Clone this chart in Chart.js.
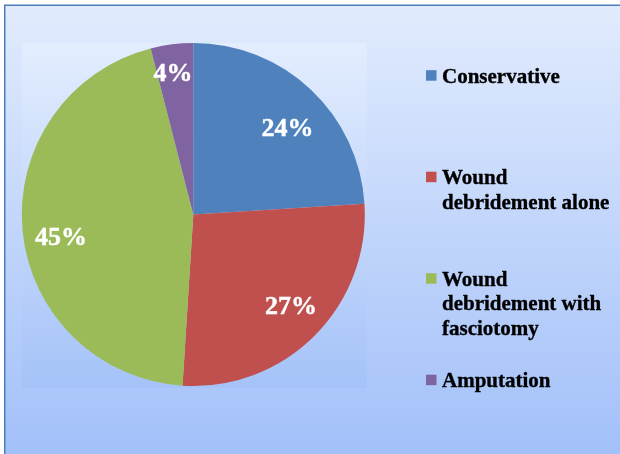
<!DOCTYPE html>
<html>
<head>
<meta charset="utf-8">
<script src="https://cdn.jsdelivr.net/npm/chart.js@4.4.1/dist/chart.umd.min.js"></script>
<style>
  html, body { margin: 0; padding: 0; background: #ffffff; }
  #wrap { width: 620px; height: 454px; position: relative; }
</style>
</head>
<body>
<div id="wrap"><canvas id="c" width="620" height="454"></canvas></div>
<script>
// ---- data ----
const categories = ['Conservative', 'Wound debridement alone', 'Wound debridement with fasciotomy', 'Amputation'];
const percentages = [24, 27, 45, 4];
const valueLabels = ['24%', '27%', '45%', '4%'];
const sliceColors = ['#4F81BD', '#C0504D', '#9BBB59', '#8064A2'];

// label placement per slice: [fraction of radius, angle tweak in degrees]
const labelPlacement = [[0.748, 4.1], [0.778, -2], [0.782, -4], [0.839, -0.9]];

const backgroundPlugin = {
  id: 'bgFrame',
  beforeDraw(chart) {
    const { ctx, width, height, chartArea } = chart;
    ctx.save();
    let g = ctx.createLinearGradient(0, 6, 0, height);
    g.addColorStop(0, '#E1EBFD');
    g.addColorStop(1, '#A2C0F9');
    ctx.fillStyle = g;
    ctx.fillRect(5, 6, width - 5, height - 6);
    // plot area
    const a = chartArea;
    g = ctx.createLinearGradient(0, a.top, 0, a.bottom);
    g.addColorStop(0, '#E3EDFE');
    g.addColorStop(1, '#A5C3F8');
    ctx.fillStyle = g;
    ctx.fillRect(a.left, a.top, a.right - a.left + 2, a.bottom - a.top + 2);
    // frame
    ctx.strokeStyle = '#4A7EBB';
    ctx.lineWidth = 1.5;
    ctx.beginPath();
    ctx.moveTo(4.75, height + 2);
    ctx.lineTo(4.75, 5.25);
    ctx.lineTo(width + 2, 5.25);
    ctx.stroke();
    ctx.restore();
  }
};

const labelPlugin = {
  id: 'sliceLabels',
  afterDatasetsDraw(chart) {
    const { ctx } = chart;
    const meta = chart.getDatasetMeta(0);
    ctx.save();
    ctx.font = 'bold 26px "Liberation Serif", "Times New Roman", serif';
    ctx.fillStyle = '#FFFFFF';
    ctx.strokeStyle = '#FFFFFF';
    ctx.lineWidth = 0.4;
    ctx.textAlign = 'center';
    ctx.textBaseline = 'alphabetic';
    meta.data.forEach((arc, i) => {
      const p = arc.getProps(['x', 'y', 'startAngle', 'endAngle', 'outerRadius'], true);
      const [frac, tweak] = labelPlacement[i];
      const mid = (p.startAngle + p.endAngle) / 2 + tweak * Math.PI / 180;
      const r = p.outerRadius * frac;
      const cx = p.x + Math.cos(mid) * r;
      const cy = p.y + Math.sin(mid) * r;
      ctx.fillText(valueLabels[i], cx, cy + 26 * 0.338);
      ctx.strokeText(valueLabels[i], cx, cy + 26 * 0.338);
    });
    ctx.restore();
  }
};

const legendPlugin = {
  id: 'sideLegend',
  afterDraw(chart) {
    const { ctx, width } = chart;
    const ds = chart.data.datasets[0];
    ctx.save();
    const fontSize = 21;
    ctx.font = 'bold ' + fontSize + 'px "Liberation Serif", "Times New Roman", serif';
    ctx.textAlign = 'left';
    ctx.textBaseline = 'alphabetic';
    const boxX = 426, textX = 442, firstBase = 82.7, step = 101.5, lineH = 24.5;
    const maxW = width - textX - 2;
    chart.data.labels.forEach((label, i) => {
      // word-wrap
      const words = label.split(' ');
      const lines = [];
      let cur = '';
      words.forEach(w => {
        const t = cur ? cur + ' ' + w : w;
        if (ctx.measureText(t).width > maxW && cur) { lines.push(cur); cur = w; }
        else cur = t;
      });
      if (cur) lines.push(cur);
      const base = firstBase + i * step;
      ctx.fillStyle = ds.backgroundColor[i];
      ctx.fillRect(boxX, base - 12.5, 10.5, 10.5);
      ctx.fillStyle = '#000000';
      ctx.strokeStyle = '#000000';
      ctx.lineWidth = 0.35;
      lines.forEach((ln, k) => {
        ctx.fillText(ln, textX, base + k * lineH);
        ctx.strokeText(ln, textX, base + k * lineH);
      });
    });
    ctx.restore();
  }
};

new Chart(document.getElementById('c'), {
  type: 'pie',
  data: {
    labels: categories,
    datasets: [{
      data: percentages,
      backgroundColor: sliceColors,
      borderWidth: 0
    }]
  },
  options: {
    responsive: false,
    animation: false,
    devicePixelRatio: 1,
    rotation: 0,
    layout: { padding: { left: 21.8, top: 43, right: 255.2, bottom: 68 } },
    plugins: {
      legend: { display: false },
      tooltip: { enabled: false },
      title: { display: false }
    }
  },
  plugins: [backgroundPlugin, labelPlugin, legendPlugin]
});
</script>
</body>
</html>
